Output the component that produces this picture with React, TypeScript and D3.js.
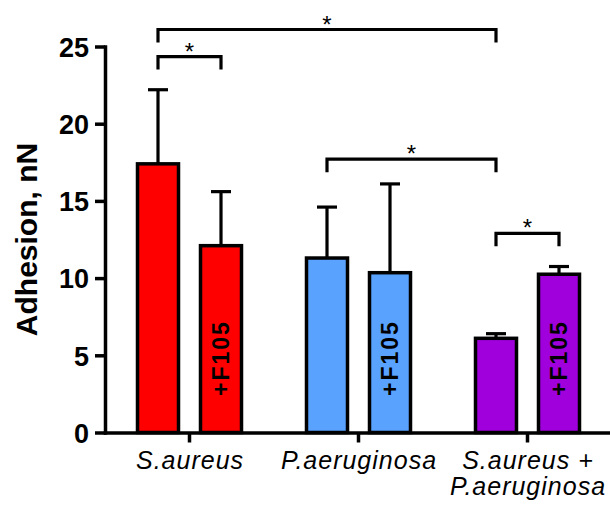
import React, { useRef, useEffect } from 'react';
import * as d3 from 'd3';

const categories = ['S.aureus', 'P.aeruginosa', 'S.aureus + P.aeruginosa'];
const labelLines = [['S.aureus'], ['P.aeruginosa'], ['S.aureus +', 'P.aeruginosa']];
const untreated = [17.4, 11.3, 6.1];
const untreatedSD = [4.8, 3.3, 0.3];
const treated = [12.1, 10.35, 10.25];
const treatedSD = [3.5, 5.75, 0.5];
const treatedLabel = '+F105';
const colors = ['#ff0000', '#59a3ff', '#a000dc'];
const yTicks = [0, 5, 10, 15, 20, 25];

// [category, bar] pairs joined by a significance bracket
const brackets = [
  { from: [0, 0], to: [0, 1], level: 24.35 },
  { from: [0, 0], to: [2, 0], level: 26.1 },
  { from: [1, 0], to: [2, 0], level: 17.7 },
  { from: [2, 0], to: [2, 1], level: 12.9 },
];

const W = 610;
const H = 508;
const FONT = '"Liberation Sans", Arial, sans-serif';

const App = () => {
  const ref = useRef<SVGSVGElement>(null);

  useEffect(() => {
    const svg = d3.select(ref.current);
    svg.selectAll('*').remove();

    const y = d3.scaleLinear().domain([0, 25]).range([432.5, 46.5]);
    const x = d3.scaleBand().domain(categories).range([105, 612]).padding(0);
    const offset = 31.5;
    const barW = 41;
    const barX = (c: number, b: number) =>
      x(categories[c])! + x.bandwidth() / 2 + (b === 0 ? -offset : offset);

    const rows = categories.map((c, i) => [
      { c: i, b: 0, v: untreated[i], sd: untreatedSD[i] },
      { c: i, b: 1, v: treated[i], sd: treatedSD[i] },
    ]).flat();

    // error bars (upper only)
    const err = svg.append('g').attr('stroke', '#000').attr('stroke-width', 3.2);
    rows.forEach(d => {
      const cx = barX(d.c, d.b);
      err.append('line')
        .attr('x1', cx).attr('x2', cx)
        .attr('y1', y(d.v)).attr('y2', y(d.v + d.sd));
      err.append('line')
        .attr('x1', cx - 10).attr('x2', cx + 10)
        .attr('y1', y(d.v + d.sd)).attr('y2', y(d.v + d.sd));
    });

    svg.append('g')
      .selectAll('rect')
      .data(rows)
      .enter()
      .append('rect')
      .attr('x', d => barX(d.c, d.b) - barW / 2)
      .attr('y', d => y(d.v))
      .attr('width', barW)
      .attr('height', d => y(0) - y(d.v))
      .attr('fill', d => colors[d.c])
      .attr('stroke', '#000')
      .attr('stroke-width', 3.5);

    // +F105 labels inside treated bars
    svg.append('g')
      .selectAll('text')
      .data(rows.filter(d => d.b === 1))
      .enter()
      .append('text')
      .attr('transform', d => `translate(${barX(d.c, d.b) + 8},396) rotate(-90)`)
      .attr('font-family', FONT)
      .attr('font-weight', 'bold')
      .attr('font-size', 23)
      .attr('letter-spacing', 2)
      .attr('fill', '#000')
      .text(treatedLabel);

    // y axis
    const yAxis = svg.append('g')
      .attr('transform', 'translate(105,0)')
      .call(d3.axisLeft(y).tickValues(yTicks).tickSize(10).tickSizeOuter(0).tickPadding(6));
    yAxis.select('.domain').attr('stroke-width', 3.5).attr('stroke-linecap', 'square');
    yAxis.selectAll('.tick line').attr('stroke-width', 3.5);
    yAxis.selectAll('.tick text')
      .attr('font-family', FONT)
      .attr('font-weight', 'bold')
      .attr('font-size', 27)
      .attr('dy', '0.36em');

    // x axis
    const xAxis = svg.append('g')
      .attr('transform', `translate(0,${y(0)})`)
      .call(d3.axisBottom(x).tickSize(10).tickSizeOuter(0).tickFormat(() => ''));
    xAxis.select('.domain').attr('stroke-width', 3.5).attr('stroke-linecap', 'square');
    xAxis.selectAll('.tick line').attr('stroke-width', 3.5);

    // category labels
    categories.forEach((c, i) => {
      const t = svg.append('text')
        .attr('y', 469)
        .attr('text-anchor', 'middle')
        .attr('font-family', FONT)
        .attr('font-style', 'italic')
        .attr('font-size', 25)
        .attr('letter-spacing', 1);
      labelLines[i].forEach((line, j) => {
        t.append('tspan')
          .attr('x', x(c)! + x.bandwidth() / 2 + 0.5)
          .attr('dy', j === 0 ? 0 : 26)
          .text(line);
      });
    });

    svg.append('text')
      .attr('transform', `translate(37,${(y(0) + y(25)) / 2}) rotate(-90)`)
      .attr('text-anchor', 'middle')
      .attr('font-family', FONT)
      .attr('font-weight', 'bold')
      .attr('font-size', 30)
      .text('Adhesion, nN');

    // significance brackets
    const br = svg.append('g');
    brackets.forEach(b => {
      const x1 = barX(b.from[0], b.from[1]);
      const x2 = barX(b.to[0], b.to[1]);
      const ly = y(b.level);
      br.append('path')
        .attr('d', `M${x1},${ly + 13}V${ly}H${x2}V${ly + 13}`)
        .attr('fill', 'none')
        .attr('stroke', '#000')
        .attr('stroke-width', 3.2);
      br.append('text')
        .attr('x', (x1 + x2) / 2)
        .attr('y', ly + 3)
        .attr('text-anchor', 'middle')
        .attr('font-family', FONT)
        .attr('font-size', 24)
        .text('*');
    });
  }, []);

  return (
    <svg
      ref={ref}
      width={W}
      height={H}
      style={{ position: 'absolute', left: 0, top: 0, background: '#fff' }}
    />
  );
};

export default App;
